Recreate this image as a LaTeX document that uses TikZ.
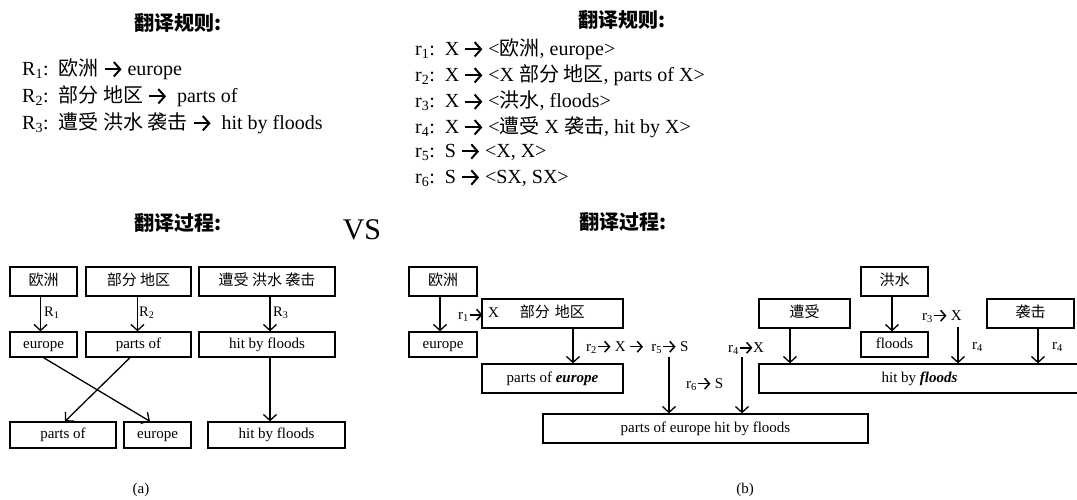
\documentclass[tikz,border=0pt]{standalone}
\usepackage{fontspec}
\setmainfont{Liberation Serif}
\newfontfamily\cjkf{Noto Sans CJK SC}
\usetikzlibrary{arrows.meta}
\newcommand\zh[1]{{\cjkf #1}}
\newcommand\rar{\tikz[baseline=-0.3em]\draw[line width=0.1em,-{Straight Barb[length=0.32em,width=0.72em]}](0,0)--(0.85em,0);}
\begin{document}
\begin{tikzpicture}[x=1pt,y=-1pt,
  box/.style={draw,line width=1.3pt,inner sep=0pt,text height=10.5pt,text depth=3pt,font=\fontsize{15}{17}\selectfont},
  conn/.style={line width=1.3pt,-{Straight Barb[length=6pt,width=13pt]}},
  lbl/.style={anchor=west,inner sep=0pt,font=\fontsize{15}{17}\selectfont},
  rulel/.style={anchor=west,inner sep=0pt,font=\fontsize{20}{22}\selectfont},
  ttl/.style={inner sep=0pt,font=\fontsize{20}{22}\selectfont\cjkf\bfseries},
  captxt/.style={inner sep=0pt,font=\fontsize{15}{17}\selectfont}]
\useasboundingbox (0,0) rectangle (1077,499);

% titles
\node[ttl] (tl1) at (178,23) {翻译规则:};
\node[ttl] (tr1) at (622,20) {翻译规则:};
\node[ttl] (tl2) at (178,223) {翻译过程:};
\node[ttl] (tr2) at (623,222) {翻译过程:};
\node[inner sep=0pt,font=\fontsize{30}{32}\selectfont] (vs) at (362,230) {VS};

% left rules
\node[rulel] (R1) at (22,69) {R\textsubscript{1}:\ \ \zh{欧洲} \rar{} europe};
\node[rulel] (R2) at (22,96) {R\textsubscript{2}:\ \ \zh{部分 地区} \rar{}\ \ parts of};
\node[rulel] (R3) at (22,123) {R\textsubscript{3}:\ \ \zh{遭受 洪水 袭击} \rar{}\ \ hit by floods};

% right rules
\node[rulel] (r1) at (415,49) {r\textsubscript{1}:\ \ X \rar{} <\zh{欧洲}, europe>};
\node[rulel] (r2) at (415,75) {r\textsubscript{2}:\ \ X \rar{} <X \zh{部分 地区}, parts of X>};
\node[rulel] (r3) at (415,101) {r\textsubscript{3}:\ \ X \rar{} <\zh{洪水}, floods>};
\node[rulel] (r4) at (415,127) {r\textsubscript{4}:\ \ X \rar{} <\zh{遭受} X \zh{袭击}, hit by X>};
\node[rulel] (r5) at (415,152) {r\textsubscript{5}:\ \ S \rar{} <X, X>};
\node[rulel] (r6) at (415,178) {r\textsubscript{6}:\ \ S \rar{} <SX, SX>};

% (a)
\node[box,minimum width=67pt,minimum height=29pt] (a1) at (43.5,281.5) {\zh{欧洲}};
\node[box,minimum width=105pt,minimum height=29pt] (a2) at (138.5,281.5) {\zh{部分 地区}};
\node[box,minimum width=136pt,minimum height=29pt] (a3) at (267,281.5) {\zh{遭受 洪水 袭击}};
\node[box,minimum width=67pt,minimum height=25pt] (b1) at (43.5,344.5) {europe};
\node[box,minimum width=105pt,minimum height=25pt] (b2) at (138.5,344.5) {parts of};
\node[box,minimum width=136pt,minimum height=25pt] (b3) at (267,344.5) {hit by floods};
\node[box,minimum width=106pt,minimum height=26pt] (c1) at (63,435) {parts of};
\node[box,minimum width=67pt,minimum height=26pt] (c2) at (157.5,435) {europe};
\node[box,minimum width=137pt,minimum height=26pt] (c3) at (276.5,435) {hit by floods};

\draw[conn] ([xshift=-3pt]a1.south) -- ([xshift=-3pt]b1.north);
\draw[conn] ([xshift=-1pt]a2.south) -- ([xshift=-1pt]b2.north);
\draw[conn] ([xshift=3pt]a3.south) -- ([xshift=3pt]b3.north);
\draw[conn] (b1.south) -- ([xshift=-7.5pt]c2.north);
\draw[conn] ([xshift=-8.5pt]b2.south) -- ([xshift=2pt]c1.north);
\draw[conn] ([xshift=3pt]b3.south) -- ([xshift=-6.5pt]c3.north);
\node[lbl,font=\fontsize{14.5}{16}\selectfont] (lR1) at (44,313) {R\textsubscript{1}};
\node[lbl,font=\fontsize{14.5}{16}\selectfont] (lR2) at (139,313) {R\textsubscript{2}};
\node[lbl,font=\fontsize{14.5}{16}\selectfont] (lR3) at (273,313) {R\textsubscript{3}};

% (b)
\node[box,minimum width=68pt,minimum height=29pt] (d1) at (443,281.5) {\zh{欧洲}};
\node[box,minimum width=68pt,minimum height=25pt] (d2) at (443,344.5) {europe};
\node[box,minimum width=141pt,minimum height=29pt,text width=129pt,align=left] (d3) at (552.5,313.5) {X\hspace{21pt}\zh{部分 地区}};
\node[box,minimum width=141pt,minimum height=29pt] (d4) at (552.5,378.5) {parts of \textbf{\textit{europe}}};
\node[box,minimum width=325pt,minimum height=29pt] (d5) at (705.5,428.5) {parts of europe hit by floods};
\node[box,minimum width=67pt,minimum height=29pt] (e1) at (894.5,281.5) {\zh{洪水}};
\node[box,minimum width=67pt,minimum height=25pt] (e2) at (894.5,344.5) {floods};
\node[box,minimum width=91pt,minimum height=29pt] (e3) at (804.5,313.5) {\zh{遭受}};
\node[box,minimum width=87pt,minimum height=29pt] (e4) at (1030.5,313.5) {\zh{袭击}};
\node[box,minimum width=321pt,minimum height=29pt] (e5) at (919.5,378.5) {hit by \textbf{\textit{floods}}};

\coordinate (s5) at (669,357);
\coordinate (s4) at (742,357);
\coordinate (s3) at (958,327);

\draw[conn] ([xshift=-3pt]d1.south) -- ([xshift=-3pt]d2.north);
\draw[conn] ([xshift=20.5pt]d3.south) -- ([xshift=20.5pt]d4.north);
\draw[conn] (s5) -- (s5 |- d5.north);
\draw[conn] (s4) -- (s4 |- d5.north);
\draw[conn] ([xshift=-14.5pt]e3.south) -- ([xshift=-129.5pt]e5.north);
\draw[conn] ([xshift=-2.5pt]e1.south) -- ([xshift=-2.5pt]e2.north);
\draw[conn] (s3) -- (s3 |- e5.north);
\draw[conn] ([xshift=7.5pt]e4.south) -- ([xshift=118.5pt]e5.north);

\node[lbl] (l1) at (458,315) {r\textsubscript{1}\rar{}};
\node[lbl] (l2) at (586,347) {r\textsubscript{2}\rar{} X \rar{}\ \ r\textsubscript{5}\rar{} S};
\node[lbl] (l6) at (686,384) {r\textsubscript{6}\rar{} S};
\node[lbl] (l4) at (728,348) {r\textsubscript{4}\rar{}X};
\node[lbl] (l3) at (922,316) {r\textsubscript{3}\rar{} X};
\node[lbl] (l4b) at (972,347) {r\textsubscript{4}};
\node[lbl] (l4c) at (1052,347) {r\textsubscript{4}};

% captions
\node[captxt] (ca) at (141,490) {(a)};
\node[captxt] (cb) at (745,490) {(b)};
\end{tikzpicture}
\end{document}
